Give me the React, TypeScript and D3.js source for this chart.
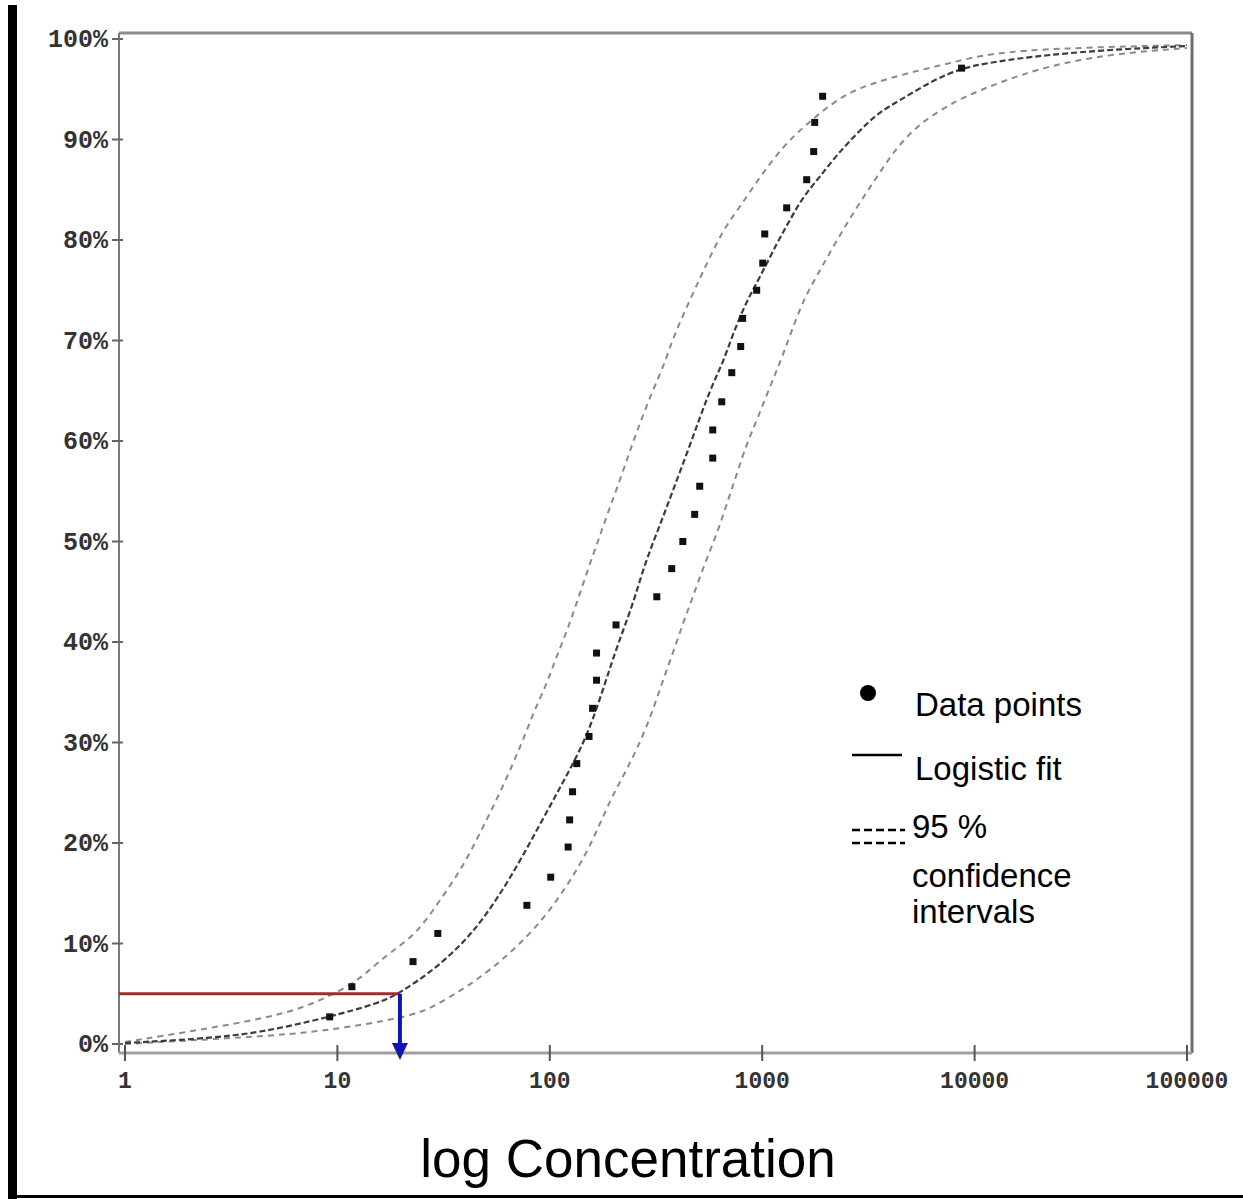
import React from 'react'
import * as d3 from 'd3'

// data points
const pointConc = [9.2, 11.7, 22.7, 29.7, 78, 101, 122, 124, 128, 134, 153, 159, 166, 166, 205, 319, 375, 423, 481, 508, 585, 585, 645, 719, 792, 809, 942, 1006, 1028, 1304, 1620, 1748, 1767, 1926, 8686]
const pointPct = [2.7, 5.7, 8.2, 11.0, 13.8, 16.6, 19.6, 22.3, 25.1, 27.9, 30.6, 33.4, 36.2, 38.9, 41.7, 44.5, 47.3, 50.0, 52.7, 55.5, 58.3, 61.1, 63.9, 66.8, 69.4, 72.2, 75.0, 77.7, 80.6, 83.2, 86.0, 88.8, 91.7, 94.3, 97.1]

// logistic fit
const fitConc = [1, 2.25, 4.32, 9.23, 15.9, 19.7, 27.3, 37.8, 48.5, 64.9, 87, 115, 150, 186, 207, 231, 252, 275, 306, 341, 380, 443, 510, 587, 654, 729, 848, 976, 1174, 1352, 1556, 1872, 2250, 2795, 3471, 4455, 6371, 8724, 11440, 17650, 38950, 100000]
const fitPct = [0.1, 0.5, 1.1, 2.7, 4.1, 5.1, 7.1, 9.7, 12.4, 16.4, 21.3, 26.0, 30.5, 36.5, 39.5, 42.2, 44.5, 47.2, 49.9, 52.4, 55.1, 58.8, 62.4, 65.8, 67.8, 70.7, 74.0, 76.3, 79.7, 82.0, 84.3, 86.3, 88.5, 90.6, 92.6, 93.9, 95.9, 97.1, 97.6, 98.2, 98.9, 99.3]

// 95% confidence band, upper (left) curve
const upperConc = [1, 2.25, 4.66, 7.19, 11.8, 14.2, 17.7, 23.7, 30.4, 39.0, 48.5, 60.2, 74.8, 83.4, 97, 106, 120, 134, 151, 169, 188, 214, 239, 266, 306, 349, 380, 472, 550, 654, 786, 976, 1253, 1556, 1933, 2507, 3324, 4806, 7660, 11820, 25240, 100000]
const upperPct = [0.2, 1.4, 2.6, 3.7, 5.9, 7.4, 9.1, 11.0, 14.3, 17.6, 21.6, 25.6, 30.2, 32.9, 35.9, 38.2, 41.0, 43.9, 47.2, 50.1, 52.9, 56.1, 59.1, 61.8, 65.1, 67.8, 70.3, 74.7, 77.7, 81.0, 83.3, 86.3, 89.3, 91.2, 92.9, 94.6, 95.6, 96.6, 97.6, 98.6, 99.1, 99.4]

// 95% confidence band, lower (right) curve
const lowerConc = [1, 4.0, 8.28, 22.0, 28.2, 36.6, 45.4, 60.2, 87, 120, 155, 192, 231, 287, 341, 380, 424, 472, 538, 613, 683, 761, 848, 945, 1088, 1213, 1352, 1556, 1872, 2250, 2795, 3471, 4312, 5716, 8262, 11440, 16360, 25240, 48360, 100000]
const lowerPct = [0, 0.7, 1.2, 2.7, 3.7, 5.1, 6.4, 8.4, 11.6, 15.6, 19.6, 24.3, 27.3, 31.5, 36.2, 38.9, 41.9, 44.5, 47.9, 50.8, 53.8, 56.8, 59.8, 62.1, 65.4, 67.8, 70.5, 74.0, 77.0, 80.0, 83.3, 86.3, 89.3, 91.9, 93.9, 95.2, 96.4, 97.6, 98.6, 99.1]

const xTicks = [1, 10, 100, 1000, 10000, 100000]
const yTicks = [0, 10, 20, 30, 40, 50, 60, 70, 80, 90, 100]

// threshold read-off (5% response)
const thresholdPct = 5
const thresholdConc = 19.7

const W = 1243
const H = 1199

export default function App() {
  const x = d3.scaleLog().domain([1, 100000]).range([125, 1187])
  const y = d3.scaleLinear().domain([0, 100]).range([1044, 39])

  const axisX = 119
  const axisY = 1053
  const frameTop = 33
  const frameRight = 1192

  const line = d3.line<[number, number]>()
    .x(d => x(d[0]))
    .y(d => y(d[1]))
    .curve(d3.curveBasis)

  const zip = (a: number[], b: number[]) => a.map((v, i) => [v, b[i]] as [number, number])

  const tx = x(thresholdConc)
  const ty = y(thresholdPct)

  return (
    <svg width={W} height={H} style={{ position: 'absolute', left: 0, top: 0, display: 'block', background: '#fff' }}>
      {/* page borders */}
      <rect x={8} y={5} width={9} height={H - 5} fill="#000" />
      <rect x={8} y={1195} width={W - 8} height={3} fill="#000" />

      {/* frame */}
      <line x1={axisX} x2={frameRight} y1={frameTop} y2={frameTop} stroke="#8c8c8c" strokeWidth={3} />
      <line x1={frameRight} x2={frameRight} y1={frameTop} y2={axisY} stroke="#6e6e6e" strokeWidth={3} />
      <line x1={axisX} x2={axisX} y1={frameTop} y2={axisY} stroke="#7a7a7a" strokeWidth={2} />
      <line x1={axisX} x2={frameRight} y1={axisY} y2={axisY} stroke="#a0a0a0" strokeWidth={3} />

      {/* y axis ticks */}
      {yTicks.map(t => (
        <g key={'y' + t}>
          <line x1={axisX - 7} x2={axisX + 4} y1={y(t)} y2={y(t)} stroke="#666" strokeWidth={2} />
          <text x={108} y={y(t) + 8} textAnchor="end" fontFamily="Liberation Mono" fontWeight="bold"
            fontSize={25} fill="#333">{t + '%'}</text>
        </g>
      ))}

      {/* x axis ticks */}
      {xTicks.map(t => (
        <g key={'x' + t}>
          <line x1={x(t)} x2={x(t)} y1={axisY - 8} y2={axisY + 8} stroke="#555" strokeWidth={2} />
          <text x={x(t)} y={1088} textAnchor="middle" fontFamily="Liberation Mono" fontWeight="bold"
            fontSize={23} fill="#333">{String(t)}</text>
        </g>
      ))}

      {/* curves */}
      <path d={line(zip(upperConc, upperPct)) || ''} fill="none" stroke="#8a8a8a" strokeWidth={2} strokeDasharray="6,5" />
      <path d={line(zip(lowerConc, lowerPct)) || ''} fill="none" stroke="#8a8a8a" strokeWidth={2} strokeDasharray="6,5" />
      <path d={line(zip(fitConc, fitPct)) || ''} fill="none" stroke="#3c3c3c" strokeWidth={2.2} strokeDasharray="6,3" />

      {/* threshold lines */}
      <line x1={axisX} x2={tx} y1={ty} y2={ty} stroke="#a52a2a" strokeWidth={3} />
      <line x1={tx} x2={tx} y1={ty} y2={axisY - 8} stroke="#1414b4" strokeWidth={4} />
      <polygon points={`${tx - 8},${axisY - 10} ${tx + 8},${axisY - 10} ${tx},${axisY + 7}`} fill="#1414b4" />

      {/* data points */}
      {pointConc.map((c, i) => (
        <rect key={'p' + i} x={x(c) - 3.5} y={y(pointPct[i]) - 3.5} width={7} height={7} fill="#111" />
      ))}

      {/* legend */}
      <g fontFamily="Liberation Sans" fontSize={33} fill="#000">
        <circle cx={868} cy={693} r={8} fill="#000" />
        <text x={915} y={716}>Data points</text>
        <line x1={852} x2={902} y1={755} y2={755} stroke="#000" strokeWidth={2.5} />
        <text x={915} y={780}>Logistic fit</text>
        <line x1={852} x2={905} y1={830} y2={830} stroke="#000" strokeWidth={2.5} strokeDasharray="8,4" />
        <line x1={852} x2={905} y1={843} y2={843} stroke="#000" strokeWidth={2.5} strokeDasharray="8,4" />
        <text x={912} y={838}>95 %</text>
        <text x={912} y={887}>confidence</text>
        <text x={912} y={923}>intervals</text>
      </g>

      {/* axis title */}
      <text x={628} y={1177} textAnchor="middle" fontFamily="Liberation Sans" fontSize={53} fill="#000">
        log Concentration
      </text>
    </svg>
  )
}
